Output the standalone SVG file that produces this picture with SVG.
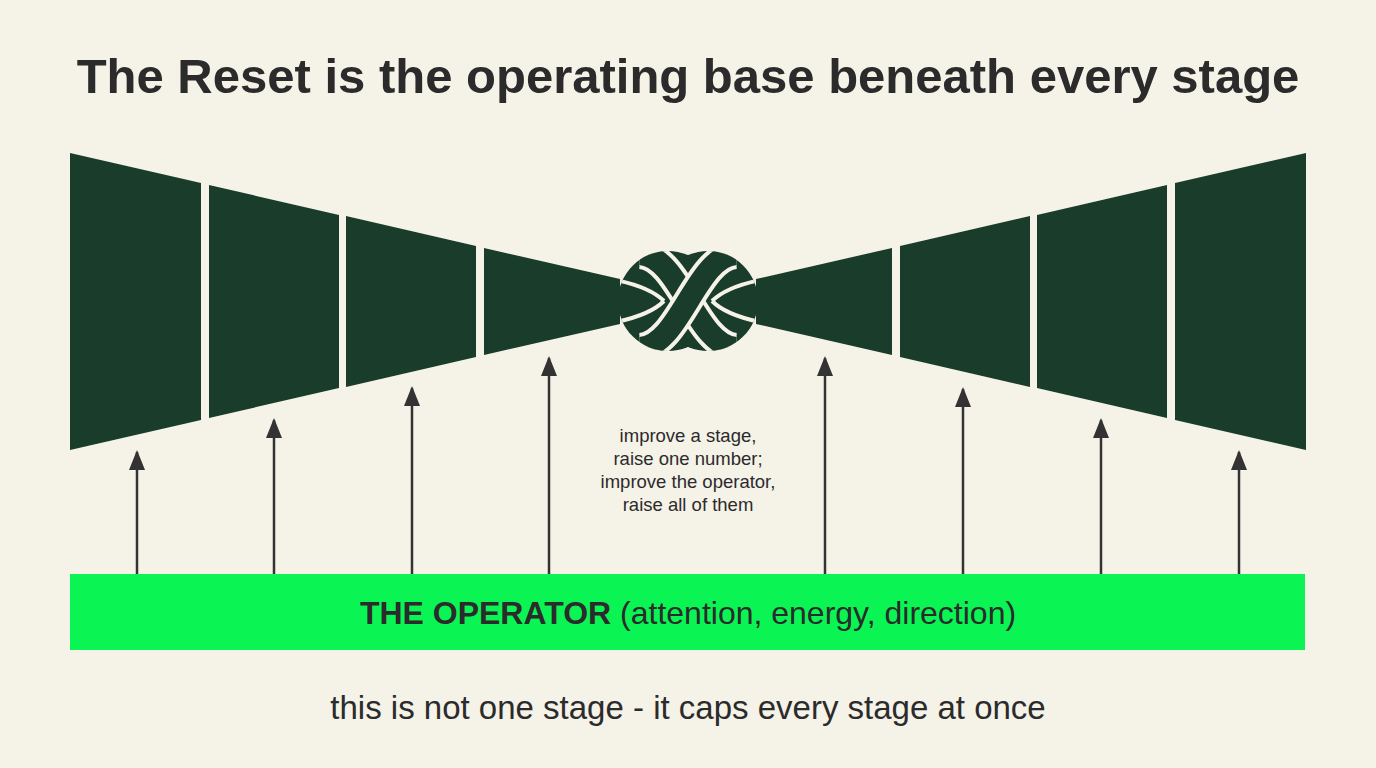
<svg xmlns="http://www.w3.org/2000/svg" width="1376" height="768" viewBox="0 0 1376 768">
<defs>
<style>
.seg{fill:#1a3c2a}
.arr{stroke:#333;stroke-width:2.5;fill:none;marker-end:url(#ah)}
.t{font-family:"Liberation Sans",Arial,sans-serif;fill:#2b2b2b;text-anchor:middle}
.out{fill:none;stroke:#f5f2e8;stroke-width:30}
.str{fill:none;stroke:#1a3c2a;stroke-width:22}
.edge{fill:none;stroke:#f5f2e8;stroke-width:4}
</style>
<marker id="ah" viewBox="0 0 10 10" refX="9" refY="5" markerWidth="20" markerHeight="20" markerUnits="userSpaceOnUse" orient="auto"><path d="M0,1 L10,5 L0,9 z" fill="#333"/></marker>
<clipPath id="kc"><circle cx="668" cy="301" r="50"/><circle cx="708" cy="301" r="50"/></clipPath>
</defs>
<rect width="1376" height="768" fill="#f5f2e8"/>
<text class="t" x="688" y="93" font-size="49" font-weight="bold" fill="#333">The Reset is the operating base beneath every stage</text>
<g id="left-funnel">
<polygon class="seg" points="70,153 201,183 201,420 70,450"/>
<polygon class="seg" points="209,185 339,215 339,388 209,418"/>
<polygon class="seg" points="346,216 476,246 476,357 346,387"/>
<polygon class="seg" points="484,248 620,279 620,324 484,355"/>
</g>
<g id="right-funnel">
<polygon class="seg" points="1306,153 1175,183 1175,420 1306,450"/>
<polygon class="seg" points="1167,185 1037,215 1037,388 1167,418"/>
<polygon class="seg" points="1030,216 900,246 900,357 1030,387"/>
<polygon class="seg" points="892,248 756,279 756,324 892,355"/>
</g>
<g id="knot">
<circle class="seg" cx="668" cy="301" r="50"/>
<circle class="seg" cx="708" cy="301" r="50"/>
<g clip-path="url(#kc)">
<path class="edge" d="M616,280 C640,285 655,292 664,301"/>
<path class="edge" d="M616,322 C640,317 655,310 664,301"/>
<path class="edge" d="M760,280 C736,285 721,292 712,301"/>
<path class="edge" d="M760,322 C736,317 721,310 712,301"/>
<path class="out" d="M640,254 C680,256 696,346 736,348"/>
<path class="str" d="M640,254 C680,256 696,346 736,348"/>
<path class="out" d="M640,348 C680,346 696,256 736,254"/>
<path class="str" d="M640,348 C680,346 696,256 736,254"/>
</g>
</g>
<g id="connectors">
<line class="arr" x1="137" y1="574" x2="137" y2="452"/>
<line class="arr" x1="274" y1="574" x2="274" y2="420"/>
<line class="arr" x1="412" y1="574" x2="412" y2="388"/>
<line class="arr" x1="549" y1="574" x2="549" y2="358"/>
<line class="arr" x1="825" y1="574" x2="825" y2="358"/>
<line class="arr" x1="963" y1="574" x2="963" y2="389"/>
<line class="arr" x1="1101" y1="574" x2="1101" y2="420"/>
<line class="arr" x1="1239" y1="574" x2="1239" y2="452"/>
</g>
<g id="note">
<text class="t" font-size="18.5" x="688" y="442">improve a stage,</text>
<text class="t" font-size="18.5" x="688" y="465">raise one number;</text>
<text class="t" font-size="18.5" x="688" y="488">improve the operator,</text>
<text class="t" font-size="18.5" x="688" y="511">raise all of them</text>
</g>
<g id="operator">
<rect x="70" y="574" width="1235" height="76" fill="#0af553"/>
<text class="t" x="688" y="624" font-size="32" fill="#1b2a1e"><tspan font-weight="bold">THE OPERATOR</tspan> (attention, energy, direction)</text>
</g>
<text class="t" x="688" y="719" font-size="33" fill="#222">this is not one stage - it caps every stage at once</text>
</svg>
